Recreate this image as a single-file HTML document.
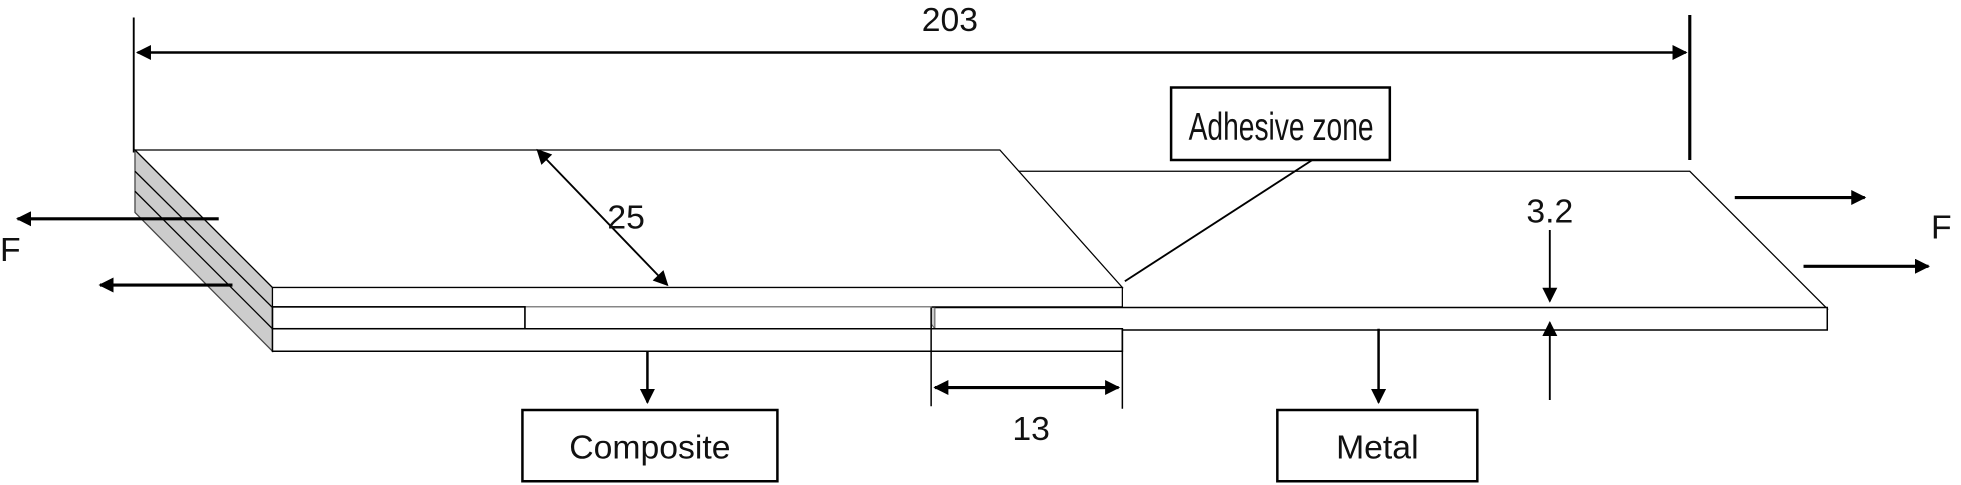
<!DOCTYPE html>
<html><head><meta charset="utf-8"><style>
html,body{margin:0;padding:0;background:#fff;width:1961px;height:485px;overflow:hidden}
svg{display:block}
text{font-family:"Liberation Sans",sans-serif;fill:#111}
</style></head><body>
<svg width="1961" height="485" viewBox="0 0 1569 388" preserveAspectRatio="none" xmlns="http://www.w3.org/2000/svg">
<defs>
<marker id="a" viewBox="0 0 10 10" refX="9" refY="5" markerWidth="14" markerHeight="12" markerUnits="userSpaceOnUse" orient="auto-start-reverse"><path d="M0,0L10,5L0,10z" fill="#000"/></marker>
</defs>
<g stroke="#000" fill="none">
<line x1="107" y1="14" x2="107" y2="122" stroke-width="1.5"/>
<line x1="1352" y1="12" x2="1352" y2="128" stroke-width="2.5"/>
<line x1="110" y1="42" x2="1349" y2="42" stroke-width="2" marker-start="url(#a)" marker-end="url(#a)"/>
<polygon points="800,137 1352,137 1462,247 898,247" fill="#fff" stroke-width="1"/>
<rect x="745" y="246" width="717" height="18" fill="#fff" stroke-width="1.2"/>
<polygon points="735,246 748,246 748,263" fill="#ccc" stroke="#555" stroke-width="0.8"/>
<polygon points="108,120 218,230 218,281 108,170" fill="#ccc" stroke="#444" stroke-width="1"/>
<line x1="108" y1="137" x2="218" y2="246" stroke-width="1"/>
<line x1="108" y1="153" x2="218" y2="263" stroke-width="1"/>
<polygon points="108,120 800,120 898,230 218,230" fill="#fff" stroke-width="1"/>
<rect x="218" y="230" width="680" height="15.5" fill="#fff" stroke-width="1"/>
<rect x="218" y="245.5" width="527" height="17.5" fill="#fff" stroke="#888" stroke-width="1"/>
<rect x="218" y="245.5" width="202" height="17.5" fill="#fff" stroke-width="1.3"/>
<rect x="218" y="263" width="680" height="18" fill="#fff" stroke-width="1.2"/>
<line x1="745" y1="246" x2="745" y2="325" stroke-width="1.2"/>
<line x1="898" y1="263" x2="898" y2="327" stroke-width="1.2"/>
<line x1="748" y1="310" x2="895" y2="310" stroke-width="2.5" marker-start="url(#a)" marker-end="url(#a)"/>
<line x1="430" y1="120" x2="534" y2="228" stroke-width="1.5" marker-start="url(#a)" marker-end="url(#a)"/>
<line x1="1050" y1="128" x2="900" y2="225" stroke-width="1.5"/>
<line x1="175" y1="175" x2="14" y2="175" stroke-width="2.5" marker-end="url(#a)"/>
<line x1="186" y1="228" x2="80" y2="228" stroke-width="2.5" marker-end="url(#a)"/>
<line x1="1388" y1="158" x2="1492" y2="158" stroke-width="2.5" marker-end="url(#a)"/>
<line x1="1443" y1="213" x2="1543" y2="213" stroke-width="2.5" marker-end="url(#a)"/>
<line x1="1240" y1="184" x2="1240" y2="241" stroke-width="1.5" marker-end="url(#a)"/>
<line x1="1240" y1="320" x2="1240" y2="258" stroke-width="1.5" marker-end="url(#a)"/>
<line x1="518" y1="281" x2="518" y2="322" stroke-width="2" marker-end="url(#a)"/>
<line x1="1103" y1="263" x2="1103" y2="322" stroke-width="2" marker-end="url(#a)"/>
<rect x="937" y="70" width="175" height="58" fill="#fff" stroke-width="2"/>
<rect x="418" y="328" width="204" height="57" fill="#fff" stroke-width="2"/>
<rect x="1022" y="328" width="160" height="57" fill="#fff" stroke-width="2"/>
</g>
<g font-size="27">
<text x="760" y="25" text-anchor="middle">203</text>
<text x="486" y="183">25</text>
<text x="1240" y="178" text-anchor="middle">3.2</text>
<text x="825" y="352" text-anchor="middle">13</text>
<text x="0" y="209">F</text>
<text x="1545" y="191">F</text>
<text x="1025" y="112" text-anchor="middle" font-size="31" textLength="148" lengthAdjust="spacingAndGlyphs">Adhesive zone</text>
<text x="520" y="367" text-anchor="middle">Composite</text>
<text x="1102" y="367" text-anchor="middle">Metal</text>
</g>
</svg>
</body></html>
